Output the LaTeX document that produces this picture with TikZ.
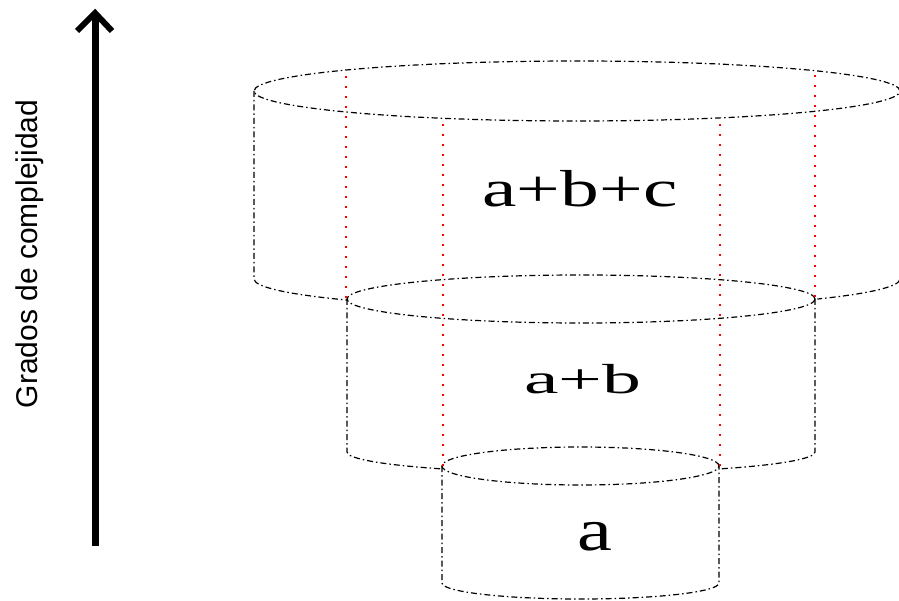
\documentclass[tikz,border=0pt]{standalone}
\usepackage{fontspec}
\setmainfont{Liberation Serif}
\newfontfamily\arialfont{Liberation Sans}
\begin{document}
\begin{tikzpicture}[x=1pt,y=-1pt,
  rim/.style={draw=black, line width=1.2pt, dash pattern=on 6pt off 3pt on 1.5pt off 3pt},
  guide/.style={draw=red, line width=2.6pt, dash pattern=on 2.4pt off 7.6pt},
  lbl/.style={inner sep=0pt, anchor=base}]
\useasboundingbox (0,0) rectangle (899,601);

% ---- arrow and axis label
\coordinate (arrB) at (95,546);
\coordinate (arrT) at (95,13);
\coordinate (arrL) at (77,31);
\coordinate (arrR) at (112,31);
\draw[line width=7pt] (arrB) -- (arrT);
\draw[line width=6pt, line join=miter] (arrL) -- (arrT) -- (arrR);
\node[lbl, rotate=90] (axis) at (37,254) {\arialfont\fontsize{30}{34}\selectfont Grados de complejidad};

% ---- top cylinder (a+b+c)
\path[rim] (577,91) ellipse [x radius=323pt, y radius=30pt];
\path[rim] (254,91) -- (254,279) arc[start angle=180, end angle=224.9, x radius=323pt, y radius=30pt];
\path[rim] (900,91) -- (900,279) arc[start angle=360, end angle=318.1, x radius=323pt, y radius=30pt];

% ---- middle cylinder (a+b)
\path[rim] (581,299) ellipse [x radius=234pt, y radius=24pt];
\path[rim] (347,299) -- (347,452) arc[start angle=180, end angle=233.5, x radius=234pt, y radius=21pt];
\path[rim] (815,299) -- (815,452) arc[start angle=360, end angle=306.5, x radius=234pt, y radius=21pt];

% ---- bottom cylinder (a)
\path[rim] (580.5,466) ellipse [x radius=138.5pt, y radius=19pt];
\path[rim] (442,466) -- (442,583) arc[start angle=180, end angle=360, x radius=138.5pt, y radius=16pt] -- (719,466);

% ---- red guide lines
\coordinate (g1t) at (346,76);  \coordinate (g1b) at (346,300);
\coordinate (g2t) at (443,124); \coordinate (g2b) at (443,468);
\coordinate (g3t) at (720,124); \coordinate (g3b) at (720,468);
\coordinate (g4t) at (815,75);  \coordinate (g4b) at (815,300);
\path[guide] (g1t) -- (g1b);
\path[guide] (g2t) -- (g2b);
\path[guide] (g3t) -- (g3b);
\path[guide] (g4t) -- (g4b);

% ---- labels
\node[lbl] (abc) at (580,207) {\scalebox{1.49}[1]{\fontsize{52}{60}\selectfont a+b+c}};
\node[lbl] (ab) at (583,393) {\scalebox{1.85}[1]{\fontsize{42}{48}\selectfont a+b}};
\node[lbl] (a) at (595,550) {\scalebox{1.31}[1]{\fontsize{60}{68}\selectfont a}};
\end{tikzpicture}
\end{document}
